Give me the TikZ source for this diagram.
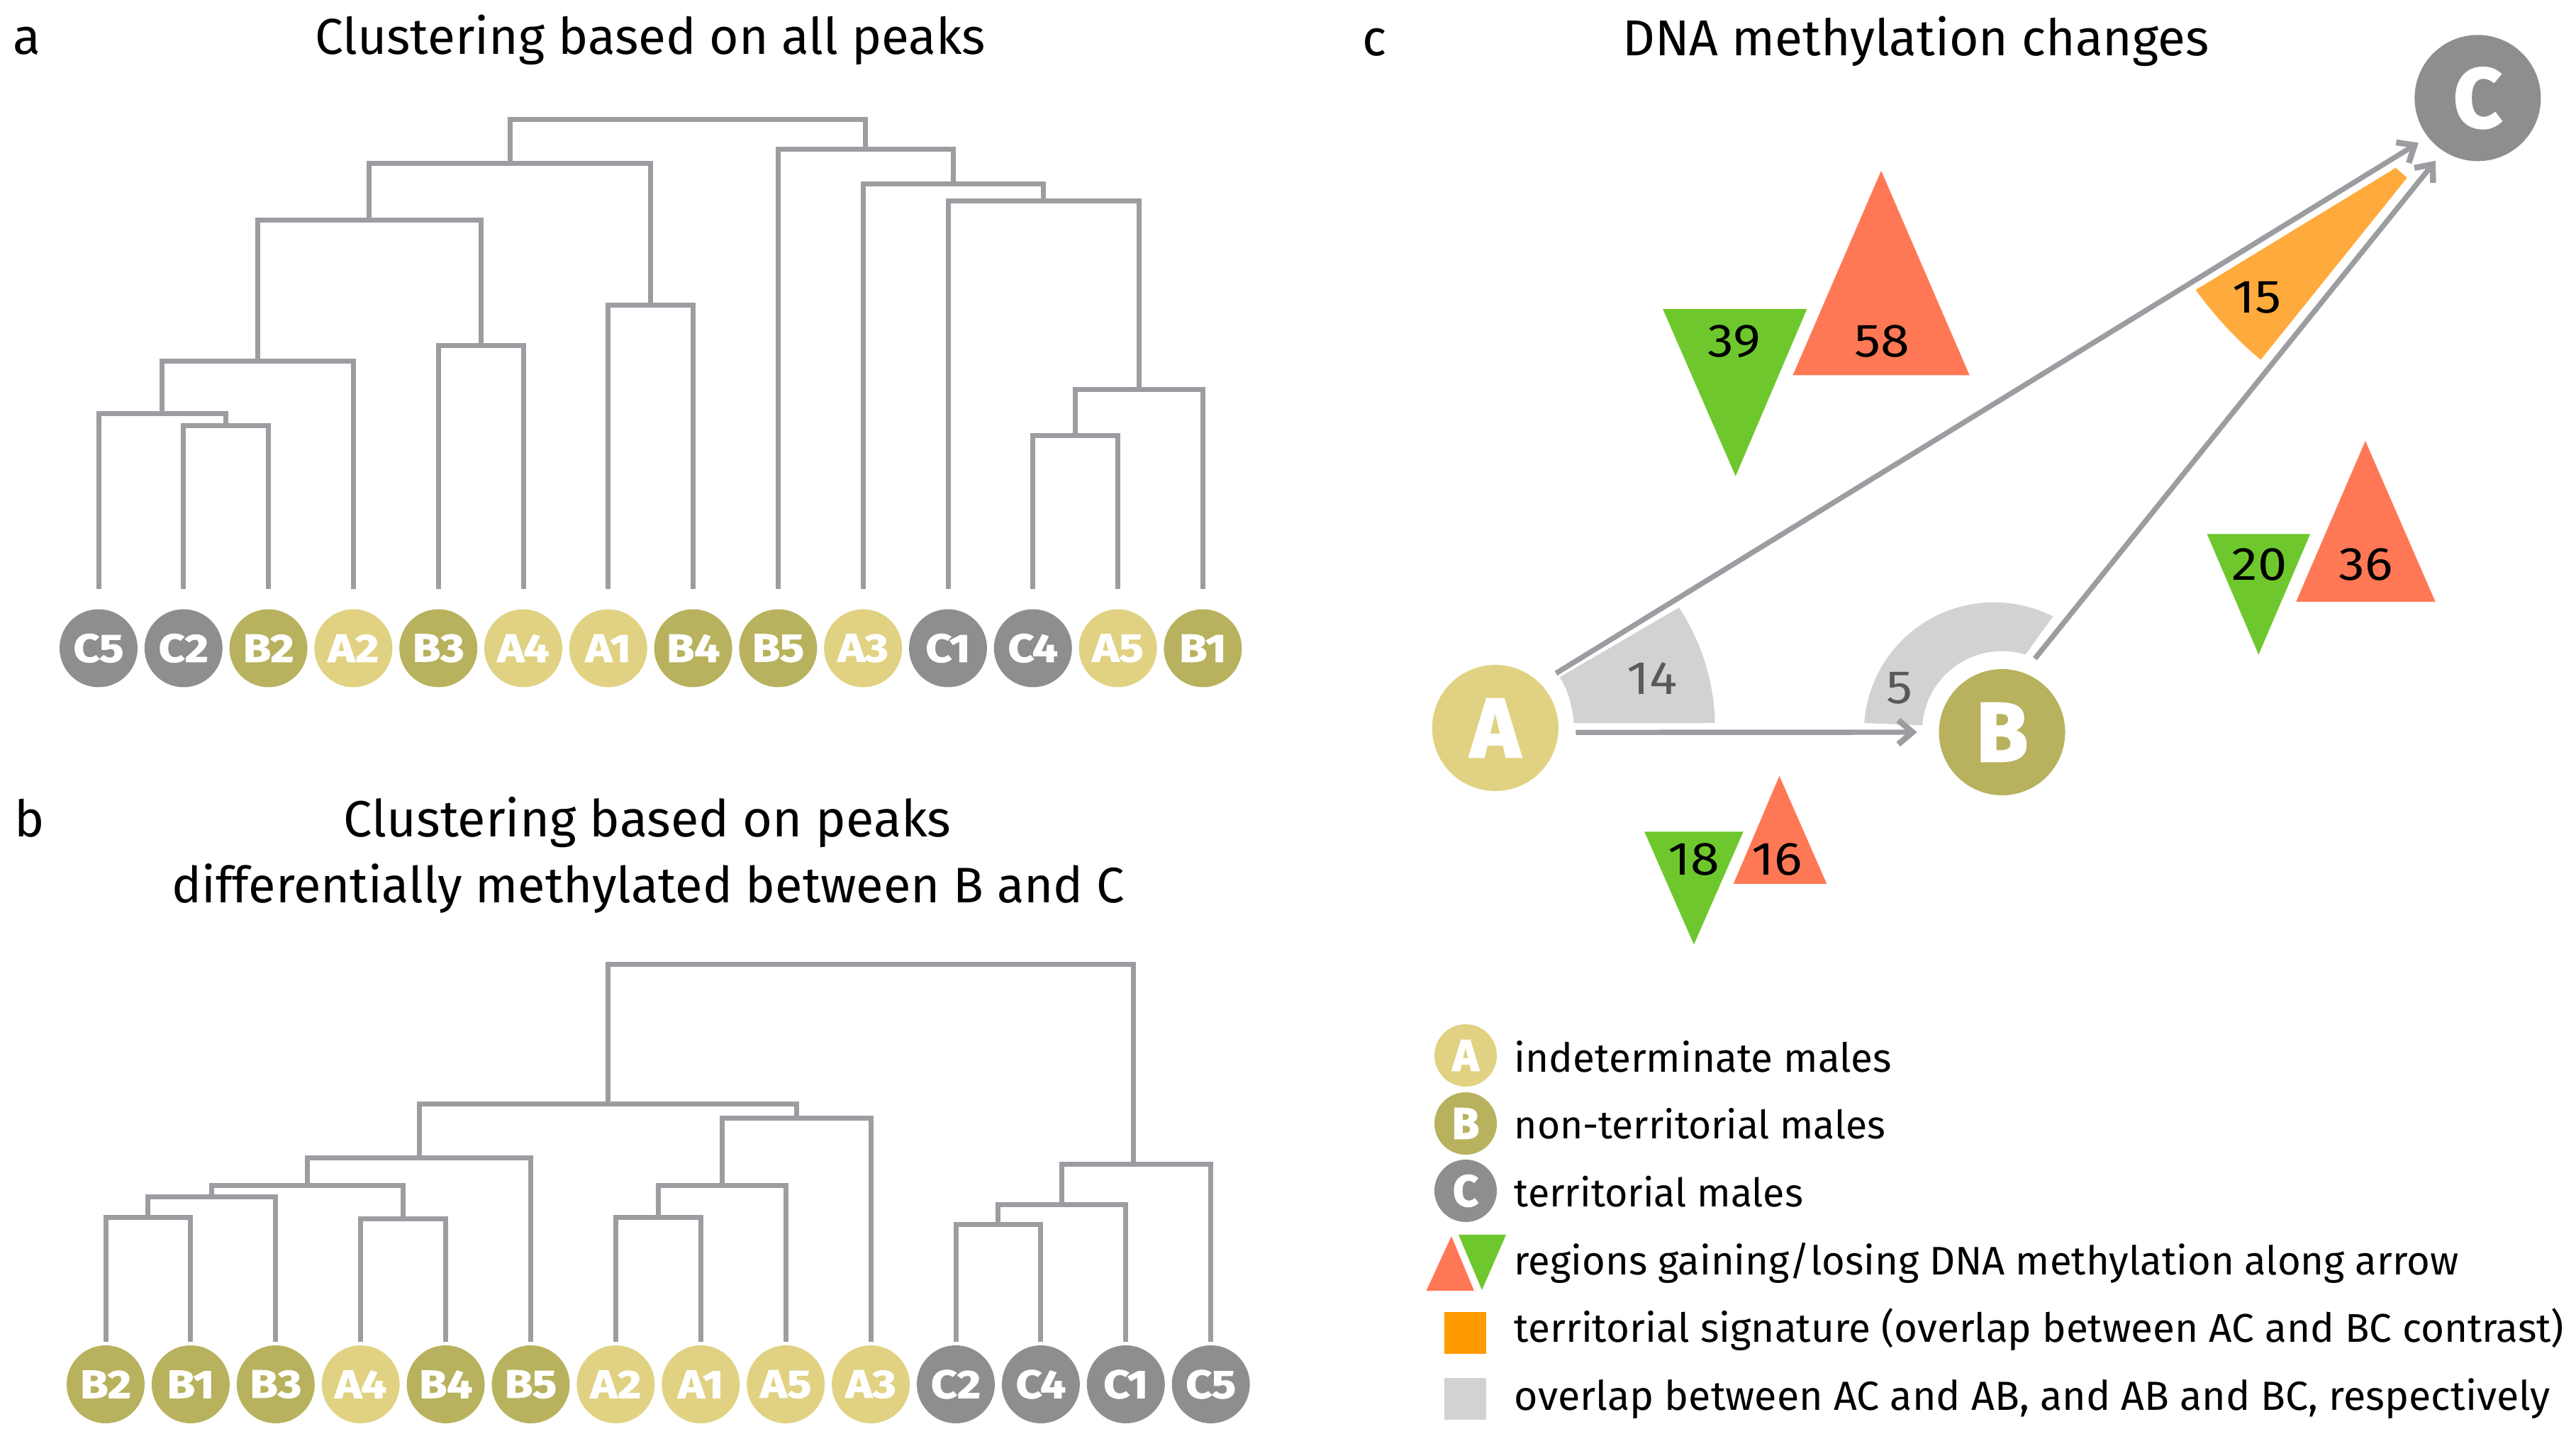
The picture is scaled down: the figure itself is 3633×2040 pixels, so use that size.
\documentclass[tikz,border=0pt]{standalone}
\usepackage{fontspec}
\setmainfont{Fira Sans}
\newfontfamily\leaffont[FakeStretch=1.15,BoldFeatures={FakeBold=1.5}]{Fira Sans}
\newfontfamily\bigfont[BoldFeatures={FakeBold=2.5}]{Fira Sans}
\newfontfamily\numfont[FakeStretch=1.12]{Fira Sans}
\usetikzlibrary{arrows.meta,calc}
\definecolor{colA}{HTML}{E0D282}
\definecolor{colB}{HTML}{B8B25E}
\definecolor{colC}{HTML}{8C8E90}
\definecolor{lineg}{HTML}{9B9DA1}
\definecolor{upred}{HTML}{FF7855}
\definecolor{downg}{HTML}{6EC82D}
\definecolor{orng}{HTML}{FFAA3C}
\definecolor{orngl}{HTML}{FF9A00}
\definecolor{secg}{HTML}{D1D2D4}
\definecolor{numg}{HTML}{58595B}
\newcommand{\mergeN}[4]{%
  \path let \p1=(#2),\p2=(#3) in coordinate (#1) at ({0.5*\x1+0.5*\x2},{-(\ya+\yb*#4)*0.25pt});
  \draw[den] (#2) |- (#1) -| (#3);}
\newcommand{\fsz}[1]{\fontsize{#1}{#1}\selectfont}
\tikzset{
  x=0.25pt,y=0.25pt,
  den/.style={draw=lineg,line width=1.75pt},
  leaf/.style={circle,minimum size=27.5pt,inner sep=0pt,text=white,font=\leaffont\fsz{14}\bfseries},
  big/.style={circle,minimum size=44.5pt,inner sep=0pt,text=white,font=\bigfont\fsz{29.5}\bfseries},
  legc/.style={circle,minimum size=22pt,inner sep=0pt,text=white,font=\bigfont\fsz{15.5}\bfseries},
  title/.style={inner sep=0pt,anchor=base,font=\fsz{17.8}},
  panel/.style={inner sep=0pt,anchor=base west,font=\fsz{17.8}},
  num/.style={inner sep=0pt,font=\numfont\fsz{16.5}},
  legt/.style={inner sep=0pt,anchor=base west,font=\fsz{14.15}},
  arr/.style={draw=lineg,line width=1.85pt,-{Straight Barb[length=5pt,width=8.5pt,line width=2.1pt]}},
}
\begin{document}
\begin{tikzpicture}
\useasboundingbox (0,0) rectangle (3633,-2040);
% titles
\node[panel] (pa) at (18,-77) {a};
\node[title] (ta) at (917,-77) {Clustering based on all peaks};
\node[panel] (pb) at (20,-1181) {b};
\node[title,font=\fsz{18}] (tb1) at (913,-1181) {Clustering based on peaks};
\node[title,font=\fsz{17.6}] (tb2) at (914,-1274) {differentially methylated between B and C};
\node[panel] (pc) at (1921,-79) {c};
\node[title] (tc) at (2702,-79) {DNA methylation changes};
% dendrogram a
\def\ya{0}\def\yb{0.994}
\foreach \n/\c [count=\i from 0] in {C5/C,C2/C,B2/B,A2/A,B3/B,A4/A,A1/A,B4/B,B5/B,A3/A,C1/C,C4/C,A5/A,B1/B}{
  \node[leaf,fill=col\c] (a\n) at ({139+\i*119.8},-914.5) {\n};
  \coordinate (ta\n) at ({139+\i*119.8},-831);
}
\mergeN{m1}{taC2}{taB2}{604}
\mergeN{m2}{taC5}{m1}{587}
\mergeN{m3}{m2}{taA2}{513}
\mergeN{m4}{taB3}{taA4}{490}
\mergeN{m5}{m3}{m4}{312}
\mergeN{m6}{taA1}{taB4}{433}
\mergeN{m7}{m5}{m6}{232}
\mergeN{m8}{taC4}{taA5}{618}
\mergeN{m9}{m8}{taB1}{553}
\mergeN{m10}{taC1}{m9}{285}
\mergeN{m11}{taA3}{m10}{261}
\mergeN{m12}{taB5}{m11}{212}
\mergeN{m13}{m7}{m12}{170}
% dendrogram b
\def\ya{6.2}\def\yb{0.994}
\foreach \n/\c [count=\i from 0] in {B2/B,B1/B,B3/B,A4/A,B4/B,B5/B,A2/A,A1/A,A5/A,A3/A,C2/C,C4/C,C1/C,C5/C}{
  \node[leaf,fill=col\c] (b\n) at ({149+\i*119.9},-1953) {\n};
  \coordinate (tb\n) at ({149+\i*119.9},-1892.7);
}
\mergeN{n1}{tbB2}{tbB1}{1722}
\mergeN{n2}{n1}{tbB3}{1692}
\mergeN{n3}{tbA4}{tbB4}{1724}
\mergeN{n4}{n2}{n3}{1676}
\mergeN{n5}{n4}{tbB5}{1637}
\mergeN{n6}{tbA2}{tbA1}{1722}
\mergeN{n7}{n6}{tbA5}{1676}
\mergeN{n8}{n7}{tbA3}{1581}
\mergeN{n9}{n5}{n8}{1561}
\mergeN{n10}{tbC2}{tbC4}{1732}
\mergeN{n11}{n10}{tbC1}{1704}
\mergeN{n12}{n11}{tbC5}{1646}
\coordinate (n12t) at ($(n12)+(-4,0)$);
\mergeN{n13}{n9}{n12t}{1362}
% panel c
\begin{scope}[x=0.2492pt,y=0.2488pt,shift={(1.125pt,0pt)}]
\node[big,fill=colA] (A) at (2111,-1032) {A};
\node[big,fill=colB] (B) at (2828,-1038) {B};
\node[big,fill=colC] (C) at (3501,-139) {C};
% sectors
\fill[secg] ($(A)+(33.3:311)$) arc[start angle=33.3,end angle=1.3,radius=311] -- (2222,-1025) .. controls (2220,-1000) and (2214,-978) .. (2202,-960) -- cycle;
\fill[secg] (2633,-1025) arc[start angle=176,end angle=63,radius=184] -- (2861,-928) arc[start angle=73,end angle=176,radius=113] -- cycle;
\fill[orng] (3102,-411) -- (3385,-238) -- (3401,-252) -- (3194,-510) .. controls (3159,-481) and (3129,-448) .. cycle;
% arrows
\draw[arr,shorten <=26*0.25pt,shorten >=15*0.25pt] (A.45) -- (C.218);
\draw[arr,shorten <=24*0.25pt,shorten >=30*0.25pt] (A.-4) -- (B.180);
\draw[arr,shorten <=25*0.25pt,shorten >=17*0.25pt] (B.70) -- (C.237);
% triangles
\fill[upred] (2657,-242) -- (2532,-532) -- (2782,-532) -- cycle;
\fill[downg] (2348,-438) -- (2552,-438) -- (2451,-675) -- cycle;
\fill[upred] (3342,-625) -- (3244,-853) -- (3441,-853) -- cycle;
\fill[downg] (3118,-757) -- (3264,-757) -- (3191,-928) -- cycle;
\fill[upred] (2513,-1100) -- (2448,-1253) -- (2580,-1253) -- cycle;
\fill[downg] (2322,-1179) -- (2462,-1179) -- (2392,-1339) -- cycle;
% numbers
\node[num] (n39) at (2449,-484) {39};
\node[num] (n58) at (2658,-484) {58};
\node[num] (n15) at (3189,-422) {15};
\node[num,text=numg] (n14) at (2333,-962) {14};
\node[num,text=numg] (n5) at (2683,-976) {5};
\node[num] (n20) at (3192,-800) {20};
\node[num] (n36) at (3343,-800) {36};
\node[num] (n18) at (2392,-1218) {18};
\node[num] (n16) at (2510,-1218) {16};
\end{scope}
% legend
\node[legc,fill=colA] (lA) at (2067,-1489) {A};
\node[legc,fill=colB] (lB) at (2067,-1585) {B};
\node[legc,fill=colC] (lC) at (2067,-1680) {C};
\fill[upred] (2047,-1744) -- (2011.5,-1821) -- (2079,-1821) -- cycle;
\fill[downg] (2057,-1742) -- (2124,-1742) -- (2090,-1820) -- cycle;
\fill[orngl] (2037,-1851) rectangle (2096,-1910);
\fill[secg] (2037,-1944) rectangle (2096,-2003);
\node[legt] (t1) at (2135,-1513) {indeterminate males};
\node[legt,font=\fsz{13.8}] (t2) at (2135,-1607) {non-territorial males};
\node[legt,font=\fsz{13.9}] (t3) at (2135,-1703) {territorial males};
\node[legt,font=\fsz{14.05}] (t4) at (2135,-1799) {regions gaining/losing DNA methylation along arrow};
\node[legt] (t5) at (2135,-1894) {territorial signature (overlap between AC and BC contrast)};
\node[legt,font=\fsz{14.35}] (t6) at (2135,-1990) {overlap between AC and AB, and AB and BC, respectively};
\end{tikzpicture}
\end{document}
